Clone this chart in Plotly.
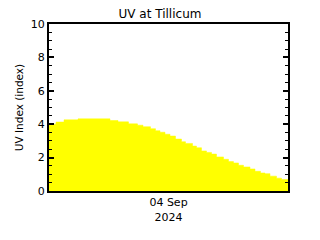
import plotly.graph_objects as go

# Time in minutes from the left edge of the chart, and UV index (step data)
minutes = [0, 14, 30, 58, 122, 138, 159, 177, 188, 203, 213, 222, 232, 242, 253, 265,
           273, 287, 295, 305, 315, 325, 335, 349, 359, 369, 379, 389, 402, 412, 423,
           432, 442, 455, 465, 478]
uv = [4.00, 4.13, 4.26, 4.32, 4.22, 4.14, 4.02, 3.94, 3.85, 3.73, 3.61, 3.52, 3.40,
      3.29, 3.11, 2.95, 2.85, 2.69, 2.59, 2.40, 2.31, 2.21, 2.04, 1.90, 1.76, 1.68,
      1.54, 1.44, 1.32, 1.18, 1.08, 1.04, 0.89, 0.77, 0.69, 0.69]

x_tick_vals = [239]
x_tick_text = ["04 Sep<br>2024"]
y_tick_vals = [0, 2, 4, 6, 8, 10]

fig = go.Figure()
fig.add_trace(go.Scatter(
    x=minutes, y=uv, mode="lines", line=dict(shape="hv", color="#FFFF00", width=0.5),
    fill="tozeroy", fillcolor="#FFFF00", hoverinfo="skip", showlegend=False))

font = dict(family="DejaVu Sans", size=11, color="black")
fig.update_layout(
    width=320, height=240,
    margin=dict(l=49, r=32, t=24, b=49),
    paper_bgcolor="white", plot_bgcolor="white",
    font=font,
    title=dict(text="UV at Tillicum", x=0.5, xanchor="center", y=0.942, yanchor="middle",
               font=dict(family="DejaVu Sans", size=12, color="black")),
    showlegend=False,
)
fig.update_xaxes(
    range=[0, 478], tickvals=x_tick_vals, ticktext=x_tick_text, ticks="",
    showgrid=False, zeroline=False, showline=True, linecolor="black", linewidth=2,
    mirror=True, tickfont=font,
)
fig.update_yaxes(
    range=[0, 10], tickvals=y_tick_vals, ticks="inside", ticklen=5, tickwidth=1.5,
    tickcolor="black", showgrid=False, zeroline=False, showline=True, linecolor="black",
    linewidth=2, mirror="allticks", tickfont=font,
    minor=dict(dtick=0.5, ticks="inside", ticklen=3, tickcolor="black", tickwidth=1),
    title=dict(text="UV Index (index)", font=dict(family="DejaVu Sans", size=10.5, color="black"),
               standoff=5),
)

fig.write_html("out.html")
